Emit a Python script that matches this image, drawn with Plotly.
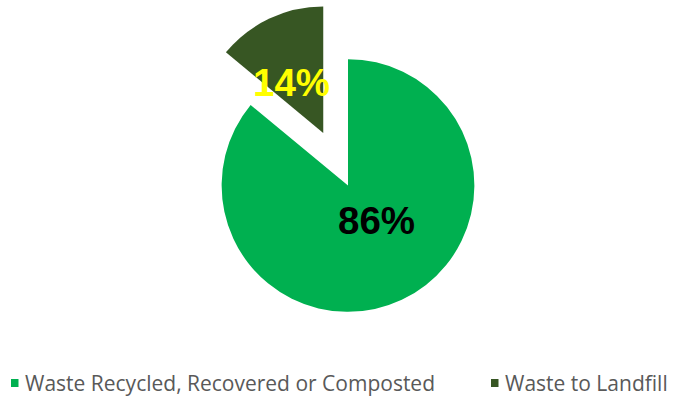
import math
import plotly.graph_objects as go

labels = ["Waste Recycled, Recovered or Composted", "Waste to Landfill"]
values = [86, 14]
colors = ["#00B050", "#375623"]
label_colors = ["#000000", "#FFFF00"]
pulls = [0, 0.46]

W, H = 673, 399
cx, cy = 348, 185.5
half = 184.5  # half of domain height in px

fig = go.Figure()
fig.add_trace(go.Pie(
    labels=labels, values=values, sort=False, direction="clockwise", rotation=0,
    marker=dict(colors=colors, line=dict(width=0)),
    pull=pulls, textinfo="none", showlegend=False, hoverinfo="label+percent",
    domain=dict(x=[(cx - 200) / W, (cx + 200) / W],
                y=[1 - (cy + half) / H, 1 - (cy - half) / H]),
))

# percentage labels, placed along each slice's mid-angle (plus a small nudge)
total = sum(values)
r = half / (1 + max(pulls))
cum = 0
label_k = [0.36, 0.47]
nudge = [(9, -6), (-6, 3)]
annotations = []
for v, p, col, k, (nx, ny) in zip(values, pulls, label_colors, label_k, nudge):
    frac = v / total
    mid = (cum + frac / 2) * 2 * math.pi
    cum += frac
    dx, dy = math.sin(mid), -math.cos(mid)
    px = cx + (p + k) * r * dx + nx
    py = cy + (p + k) * r * dy + ny
    annotations.append(dict(
        x=px / W, y=1 - py / H, xref="paper", yref="paper",
        text=f"{round(frac * 100)}%", showarrow=False,
        font=dict(family="Liberation Sans", size=38.5, color=col, weight="bold"),
        xanchor="center", yanchor="middle",
    ))

# custom legend
legend_x = [11, 491]
legend_y = 383
shapes = []
for lx, lab, col in zip(legend_x, labels, colors):
    shapes.append(dict(type="rect", xref="paper", yref="paper",
                       x0=lx / W, x1=(lx + 7.5) / W,
                       y0=1 - (legend_y + 4) / H, y1=1 - (legend_y - 4) / H,
                       fillcolor=col, line=dict(width=0)))
    annotations.append(dict(
        x=(lx + 12) / W, y=1 - legend_y / H, xref="paper", yref="paper",
        text=lab, showarrow=False, xanchor="left", yanchor="middle",
        font=dict(family="Open Sans", size=21, color="#595959"),
    ))

fig.update_layout(
    width=W, height=H, margin=dict(l=0, r=0, t=0, b=0),
    paper_bgcolor="white", plot_bgcolor="white",
    annotations=annotations, shapes=shapes,
)
fig.write_html("out.html")
